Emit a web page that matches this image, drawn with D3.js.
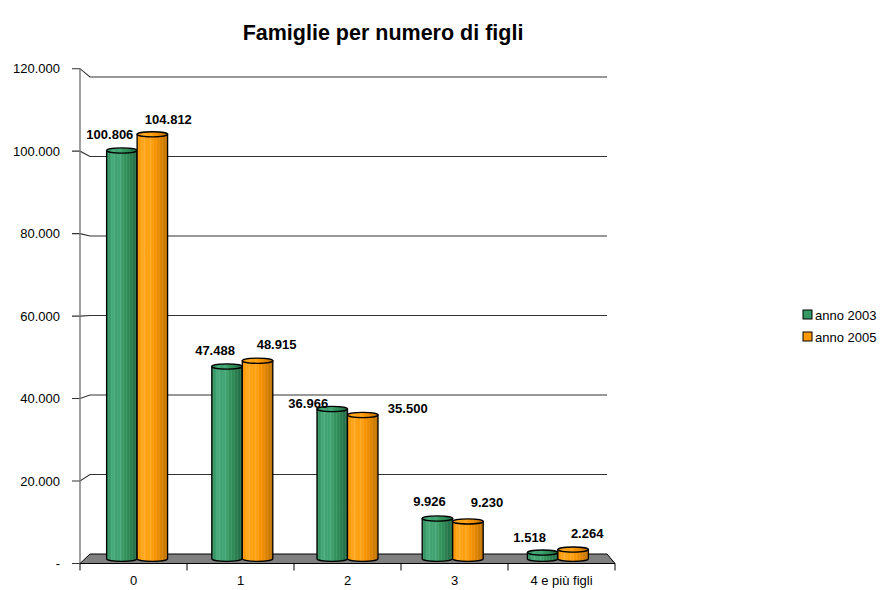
<!-- Load d3.js -->
<script src="https://d3js.org/d3.v7.min.js"></script>
<style>
  body { margin: 0; background: #fff; }
</style>

<!-- Create a div where the graph will take place -->
<div id="my_dataviz"></div>

<script>

    // chart data
    var categories = ["0", "1", "2", "3", "4 e più figli"];
    var seriesNames = ["anno 2003", "anno 2005"];
    var values2003 = [100806, 47488, 36966, 9926, 1518];
    var values2005 = [104812, 48915, 35500, 9230, 2264];
    var yTicks = [0, 20000, 40000, 60000, 80000, 100000, 120000];

    // label nudges (Excel places the 3d labels a bit loosely)
    var labelDx2003 = [-12, -12, -24, -8, -13];
    var labelDx2005 = [16, 19, 45, 19, 14];
    var labelDy2003 = [-12, -11, -1, -13, -11];
    var labelDy2005 = [-10, -12, -2, -14, -12];

    var series = [
        {name: seriesNames[0], values: values2003, dx: labelDx2003, dy: labelDy2003,
         color: "#339966", stops: ["#2a8556", "#3a9d6b", "#4aab7b", "#3c9f6d", "#46a878", "#36965f", "#309059", "#2b8050", "#26744a", "#216943"]},
        {name: seriesNames[1], values: values2005, dx: labelDx2005, dy: labelDy2005,
         color: "#ff9900", stops: ["#f29100", "#ff9f0d", "#ffaa26", "#ff9d08", "#ffa51c", "#f99500", "#ef8e00", "#de8400", "#cc7a00", "#bb7000"]}
    ];

    var width = 881, height = 590;

    var svg = d3.select("#my_dataviz")
        .append("svg")
        .attr("width", width)
        .attr("height", height)
        .style("font-family", "'Liberation Sans', Arial, sans-serif");

    // front plane, back plane and the middle plane where the bars stand
    var yFront = d3.scaleLinear().domain([0, 120000]).range([563.5, 68.7]);
    var yBack = d3.scaleLinear().domain([0, 120000]).range([554, 77]);
    var yMid = d3.scaleLinear().domain([0, 120000]).range([558.75, 72.85]);

    var xFront = d3.scaleBand().domain(categories).range([80, 615]);
    var xBack = d3.scaleBand().domain(categories).range([90, 607]);
    var xMid = d3.scaleBand().domain(categories).range([85, 611]);

    var barW = xMid.bandwidth() * 0.29;
    var x1 = d3.scaleBand().domain(seriesNames).range([-barW, barW]);

    // gradients for the cylinders
    var defs = svg.append("defs");
    series.forEach(function(s, i) {
        var g = defs.append("linearGradient")
            .attr("id", "grad" + i)
            .attr("x1", 0).attr("x2", 1).attr("y1", 0).attr("y2", 0);
        s.stops.forEach(function(c, j) {
            g.append("stop")
                .attr("offset", (j / (s.stops.length - 1) * 100) + "%")
                .attr("stop-color", c);
        });
        // vertical stripes on top of the gradient
        var p = defs.append("pattern")
            .attr("id", "stripes" + i)
            .attr("patternUnits", "userSpaceOnUse")
            .attr("width", 3).attr("height", 10);
        p.append("rect").attr("width", 1).attr("height", 10)
            .attr("fill", "#ffffff").attr("opacity", 0.08);
    });

    // floor
    svg.append("path")
        .attr("d", "M" + xFront.range()[0] + "," + yFront(0) +
                   "L" + xBack.range()[0] + "," + yBack(0) +
                   "L" + xBack.range()[1] + "," + yBack(0) +
                   "L" + xFront.range()[1] + "," + yFront(0) + "Z")
        .attr("fill", "#808080")
        .attr("stroke", "#000")
        .attr("stroke-width", 1);

    // gridlines with the little perspective kink
    svg.append("g")
        .selectAll("path")
        .data(yTicks.slice(1))
        .enter()
        .append("path")
        .attr("d", function(d) {
            return "M72," + yFront(d) + "L80," + yFront(d) +
                   "L" + xBack.range()[0] + "," + yBack(d) +
                   "L" + xBack.range()[1] + "," + yBack(d);
        })
        .attr("fill", "none")
        .attr("stroke", "#333")
        .attr("stroke-width", 1.1);

    // zero tick
    svg.append("line")
        .attr("x1", 72).attr("x2", 80)
        .attr("y1", yFront(0)).attr("y2", yFront(0))
        .attr("stroke", "#333");

    // y axis line
    svg.append("line")
        .attr("x1", 80).attr("x2", 80)
        .attr("y1", yFront(120000)).attr("y2", yFront(0))
        .attr("stroke", "#777")
        .attr("stroke-width", 1.4);

    // y tick labels
    svg.append("g")
        .selectAll("text")
        .data(yTicks)
        .enter()
        .append("text")
        .attr("x", 60)
        .attr("y", function(d) { return yFront(d); })
        .attr("dy", "0.35em")
        .attr("text-anchor", "end")
        .style("font-size", "13px")
        .text(function(d) { return d === 0 ? "-" : d3.format(",")(d).replace(/,/g, "."); });

    // x axis line and ticks
    svg.append("line")
        .attr("x1", xFront.range()[0]).attr("x2", xFront.range()[1])
        .attr("y1", yFront(0)).attr("y2", yFront(0))
        .attr("stroke", "#000");

    var xTickPos = categories.map(function(c) { return xFront(c); }).concat([xFront.range()[1]]);
    svg.append("g")
        .selectAll("line")
        .data(xTickPos)
        .enter()
        .append("line")
        .attr("x1", function(d) { return d; })
        .attr("x2", function(d) { return d; })
        .attr("y1", yFront(0))
        .attr("y2", yFront(0) + 7)
        .attr("stroke", "#000");

    svg.append("g")
        .selectAll("text")
        .data(categories)
        .enter()
        .append("text")
        .attr("x", function(d) { return xFront(d) + xFront.bandwidth() / 2; })
        .attr("y", 585)
        .attr("text-anchor", "middle")
        .style("font-size", "13px")
        .text(function(d) { return d; });

    // cylinders
    var ry = 2.6;
    var base = yMid(0);
    series.forEach(function(s, i) {
        var gBars = svg.append("g");
        categories.forEach(function(c, k) {
            var cx = xMid(c) + xMid.bandwidth() / 2 - 0.5 + x1(s.name) + barW / 2;
            var rx = barW / 2;
            var top = yMid(s.values[k]);
            var body = "M" + (cx - rx) + "," + top +
                       "L" + (cx - rx) + "," + base +
                       "A" + rx + "," + ry + " 0 0 0 " + (cx + rx) + "," + base +
                       "L" + (cx + rx) + "," + top + "Z";
            gBars.append("path")
                .attr("d", body)
                .attr("fill", "url(#grad" + i + ")");
            gBars.append("path")
                .attr("d", body)
                .attr("fill", "url(#stripes" + i + ")");
            gBars.append("path")
                .attr("d", body)
                .attr("fill", "none")
                .attr("stroke", "#000")
                .attr("stroke-width", 1.3);
            gBars.append("ellipse")
                .attr("cx", cx).attr("cy", top)
                .attr("rx", rx).attr("ry", ry)
                .attr("fill", "url(#grad" + i + ")")
                .attr("stroke", "#000")
                .attr("stroke-width", 1.3);
        });
    });

    // value labels
    series.forEach(function(s, i) {
        svg.append("g")
            .selectAll("text")
            .data(s.values)
            .enter()
            .append("text")
            .attr("x", function(d, k) {
                return xMid(categories[k]) + xMid.bandwidth() / 2 - 0.5 + x1(s.name) + barW / 2 + s.dx[k];
            })
            .attr("y", function(d, k) { return yMid(d) + s.dy[k]; })
            .attr("text-anchor", "middle")
            .style("font-size", "13px")
            .style("font-weight", "bold")
            .text(function(d) { return d3.format(",")(d).replace(/,/g, "."); });
    });

    // Add title to graph
    svg.append("text")
        .attr("x", 383)
        .attr("y", 40)
        .attr("text-anchor", "middle")
        .style("font-size", "21.5px")
        .style("font-weight", "bold")
        .text("Famiglie per numero di figli");

    // legend
    var legend = svg.append("g")
        .selectAll("g")
        .data(series)
        .enter()
        .append("g")
        .attr("transform", function(d, i) { return "translate(803," + (310 + i * 22) + ")"; });
    legend.append("rect")
        .attr("width", 9).attr("height", 9)
        .attr("fill", function(d) { return d.color; })
        .attr("stroke", "#000");
    legend.append("text")
        .attr("x", 12)
        .attr("y", 9.5)
        .style("font-size", "13px")
        .text(function(d) { return d.name; });

</script>
